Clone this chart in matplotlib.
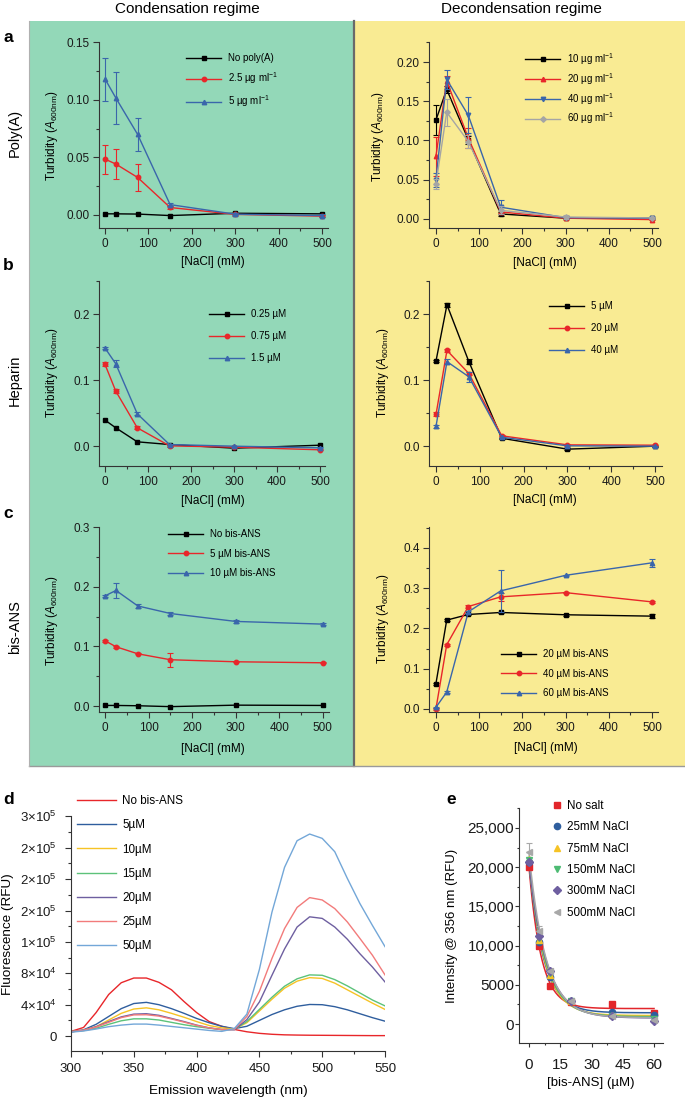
import numpy as np
import matplotlib
matplotlib.use('Agg')
import matplotlib.pyplot as plt
from matplotlib.ticker import MultipleLocator, FuncFormatter, FormatStrFormatter
from matplotlib.patches import Rectangle
from matplotlib.lines import Line2D

plt.rcParams['font.family'] = ['Liberation Sans', 'DejaVu Sans']
plt.rcParams['mathtext.fontset'] = 'custom'
plt.rcParams['mathtext.rm'] = 'Liberation Sans'
plt.rcParams['mathtext.it'] = 'Liberation Sans:italic'
plt.rcParams['mathtext.bf'] = 'Liberation Sans:bold'

# ---- data -------------------------------------------------------------
nacl = [0, 25, 75, 150, 300, 500]

# a, condensation (poly(A))
polyA_none = [0.001, 0.001, 0.0008, -0.0005, 0.0015, 0.001]
polyA_2p5 = [0.0485, 0.0442, 0.0326, 0.0065, 0.0005, -0.001]
polyA_2p5_err = [0.0125, 0.013, 0.012, 0.001, 0.001, 0.001]
polyA_5 = [0.118, 0.1015, 0.070, 0.009, 0.0007, -0.0005]
polyA_5_err = [0.0187, 0.0228, 0.0145, 0.001, 0.001, 0.001]
# a, decondensation
polyA_10 = [0.126, 0.165, 0.101, 0.0064, 0.001, 0.0008]
polyA_10_err = [0.0186, 0.005, 0.005, 0.002, 0.001, 0.001]
polyA_20 = [0.0797, 0.176, 0.103, 0.009, 0.001, -0.0008]
polyA_20_err = [0.025, 0.006, 0.013, 0.002, 0.001, 0.001]
polyA_40 = [0.050, 0.178, 0.132, 0.015, 0.0017, 0.001]
polyA_40_err = [0.009, 0.012, 0.023, 0.009, 0.002, 0.001]
polyA_60 = [0.0445, 0.136, 0.0987, 0.011, 0.0025, 0.0013]
polyA_60_err = [0.0065, 0.017, 0.008, 0.005, 0.002, 0.001]

# b, heparin
hep_025 = [0.0394, 0.0278, 0.0066, 0.0025, -0.003, 0.0015]
hep_075 = [0.1237, 0.0833, 0.0278, 0.0005, -0.0015, -0.0055]
hep_075_err = [0.003, 0.003, 0.002, 0.001, 0.001, 0.001]
hep_15 = [0.1485, 0.1247, 0.049, 0.0025, 0.0, -0.0025]
hep_15_err = [0.002, 0.005, 0.002, 0.001, 0.001, 0.001]
hep_5 = [0.129, 0.214, 0.128, 0.012, -0.0045, 0.0]
hep_5_err = [0.002, 0.003, 0.004, 0.001, 0.001, 0.001]
hep_20 = [0.048, 0.145, 0.110, 0.0157, 0.002, 0.0015]
hep_20_err = [0.003, 0.002, 0.003, 0.001, 0.001, 0.001]
hep_40 = [0.030, 0.128, 0.105, 0.0136, 0.0005, 0.0]
hep_40_err = [0.002, 0.004, 0.008, 0.001, 0.001, 0.001]

# c, bis-ANS
bis_0 = [0.001, 0.001, 0.0005, -0.001, 0.0015, 0.001]
bis_5 = [0.1095, 0.0995, 0.0877, 0.0777, 0.0743, 0.0726]
bis_5_err = [0.002, 0.002, 0.001, 0.0115, 0.001, 0.001]
bis_10 = [0.185, 0.194, 0.168, 0.1553, 0.142, 0.1375]
bis_10_err = [0.002, 0.013, 0.003, 0.002, 0.002, 0.002]
bis_20 = [0.0628, 0.2207, 0.2347, 0.2397, 0.234, 0.2306]
bis_20_err = [0.002, 0.002, 0.002, 0.002, 0.002, 0.005]
bis_40 = [0.0, 0.1595, 0.2545, 0.2785, 0.289, 0.266]
bis_40_err = [0.002, 0.002, 0.003, 0.01, 0.002, 0.002]
bis_60 = [0.004, 0.042, 0.2413, 0.2934, 0.332, 0.363]
bis_60_err = [0.002, 0.002, 0.003, 0.053, 0.002, 0.01]

# d, emission spectra
wavelength = list(range(300, 551, 10))
spec_none = [6000, 11000, 30000, 53000, 68000, 74000, 74000, 68500, 59000, 44000, 30000, 18500, 12500,
             8500, 5500, 3500, 2300, 1600, 1300, 1100, 1000, 900, 800, 700, 600, 600]
spec_5 = [5500, 8000, 15000, 25000, 35000, 41500, 43000, 40000, 35000, 29000, 22500, 17000, 12500,
          9500, 12500, 20000, 27500, 33500, 38000, 40300, 40000, 37500, 33500, 28500, 23500, 19000]
spec_10 = [5500, 7500, 12000, 20500, 29000, 34500, 36000, 33500, 29000, 24000, 18500, 13500, 10500,
           9000, 17000, 32000, 47000, 61000, 70000, 74500, 73500, 67500, 59000, 50500, 42000, 34000]
spec_15 = [5500, 7000, 10000, 15000, 19500, 22000, 22000, 20500, 17500, 14500, 12000, 10000, 8200,
           8500, 18500, 34000, 49500, 63500, 73000, 78000, 77500, 72000, 64000, 55000, 46000, 38500]
spec_20 = [5500, 7500, 12000, 18500, 24500, 28000, 28500, 26500, 22500, 18500, 14000, 10500, 8300,
           8000, 21000, 43500, 77500, 111000, 139000, 152000, 150000, 139000, 123500, 105000, 88000, 69000]
spec_25 = [5500, 7500, 11500, 17500, 23500, 27000, 27200, 25500, 21800, 17800, 13600, 10400, 8300,
           8500, 25000, 57000, 99000, 137000, 164000, 176500, 173500, 162500, 145500, 124500, 103000, 78000]
spec_50 = [5000, 6500, 9000, 12000, 14000, 15300, 15300, 14000, 12300, 10600, 8900, 7200, 6000,
           9500, 28000, 85000, 158000, 215000, 249000, 257500, 252000, 235000, 201000, 169000, 141000, 114000]
spec_labels = ['No bis-ANS', '5µM', '10µM', '15µM', '20µM', '25µM', '50µM']

# e, intensity at 356 nm
bisans = [0, 5, 10, 20, 40, 60]
e_nosalt = [20000, 9930, 4800, 2850, 2500, 1400]
e_25 = [20600, 10500, 6000, 2950, 1500, 1100]
e_75 = [21000, 10700, 6200, 2900, 1150, 700]
e_150 = [20900, 11000, 6500, 2900, 1050, 600]
e_300 = [20650, 11250, 6800, 3000, 1000, 420]
e_500 = [21900, 11800, 6800, 3000, 1000, 500]
e_500_err = [1250, 650, 300, 200, 100, 100]
e_labels = ['No salt', '25mM NaCl', '75mM NaCl', '150mM NaCl', '300mM NaCl', '500mM NaCl']

# ---- figure -----------------------------------------------------------
W, H = 685, 1098
fig = plt.figure(figsize=(W / 100, H / 100), dpi=100)


def fx(x):
    return x / W


def fy(y):
    return 1 - y / H


def px_axes(x0, y0, x1, y1):
    return fig.add_axes([fx(x0), fy(y1), (x1 - x0) / W, (y1 - y0) / H])


GREEN = '#93d8b8'
YELLOW = '#f9eb93'
fig.add_artist(Rectangle((fx(29), fy(766)), (354 - 29) / W, (766 - 21) / H,
                         transform=fig.transFigure, facecolor=GREEN, edgecolor='none', zorder=0))
fig.add_artist(Rectangle((fx(354), fy(766)), (685 - 354) / W, (766 - 21) / H,
                         transform=fig.transFigure, facecolor=YELLOW, edgecolor='none', zorder=0))
fig.add_artist(Line2D([fx(354), fx(354)], [fy(21), fy(766)], transform=fig.transFigure,
                      color='#6a6a6a', lw=1.6))
fig.add_artist(Line2D([fx(29), fx(685)], [fy(766), fy(766)], transform=fig.transFigure,
                      color='#9a9a9a', lw=1.0))
fig.add_artist(Line2D([fx(29), fx(29)], [fy(21), fy(766)], transform=fig.transFigure,
                      color='#b0b0b0', lw=0.8))

fig.text(fx(187), fy(9), 'Condensation regime', fontsize=11, ha='center', va='center')
fig.text(fx(521), fy(9), 'Decondensation regime', fontsize=11, ha='center', va='center')
for letter, xx, yy in [('a', 3, 37), ('b', 3, 265), ('c', 3, 514), ('d', 3, 799), ('e', 446, 800)]:
    fig.text(fx(xx), fy(yy), letter, fontsize=12.5, fontweight='bold', ha='left', va='center')
for name, yy in [('Poly(A)', 133), ('Heparin', 380), ('bis-ANS', 627)]:
    fig.text(fx(15), fy(yy), name, fontsize=10.5, rotation=90, ha='center', va='center')

EDGE = '#333333'
RED = '#e8262a'
BLUE = '#3a66ab'
GRAY = '#a5a5a5'
TURB = r'Turbidity ($\mathit{A}_{\mathrm{600nm}}$)'


def style(ax, xlim, ylim, ymaj, ymin, xmaj, xmin, fs, tlen=4, ypad=2.5, xpad=3.5):
    ax.set_facecolor('none')
    ax.spines['top'].set_visible(False)
    ax.spines['right'].set_visible(False)
    for s in ['left', 'bottom']:
        ax.spines[s].set_color(EDGE)
        ax.spines[s].set_linewidth(0.8)
    ax.set_xlim(*xlim)
    ax.set_ylim(*ylim)
    ax.xaxis.set_major_locator(MultipleLocator(xmaj))
    ax.xaxis.set_minor_locator(MultipleLocator(xmin))
    ax.yaxis.set_major_locator(MultipleLocator(ymaj))
    ax.yaxis.set_minor_locator(MultipleLocator(ymin))
    ax.tick_params(which='both', direction='out', color=EDGE, width=0.8, labelsize=fs,
                   labelcolor='#1a1a1a')
    ax.tick_params(which='major', length=tlen)
    ax.tick_params(which='minor', length=tlen / 2)
    ax.tick_params(axis='y', pad=ypad)
    ax.tick_params(axis='x', pad=xpad)


def labels(ax, xl, xpos, yl, ypos, fs):
    ax.set_xlabel(xl, fontsize=fs)
    ax.set_ylabel(yl, fontsize=fs)
    ax.xaxis.label.set_va('center')
    ax.yaxis.label.set_va('center')
    ax.xaxis.set_label_coords(fx(xpos[0]), fy(xpos[1]), transform=fig.transFigure)
    ax.yaxis.set_label_coords(fx(ypos[0]), fy(ypos[1]), transform=fig.transFigure)


def series(ax, x, y, err, color, marker, label, ms=3.2):
    if err is not None:
        ax.errorbar(x, y, yerr=err, fmt='none', ecolor=color, elinewidth=0.8, capsize=2, capthick=0.8)
    ax.plot(x, y, color=color, marker=marker, ms=ms, lw=1.0, label=label)


def legend(ax, x, y, fs=7, hl=3.6, ls=1.15, htp=0.7, handles=None):
    kw = dict(loc='upper left', bbox_to_anchor=(fx(x), fy(y)), bbox_transform=fig.transFigure,
              frameon=False, fontsize=fs, handlelength=hl, labelspacing=ls, handletextpad=htp,
              borderpad=0, borderaxespad=0)
    if handles is not None:
        ax.legend(handles=handles, **kw)
    else:
        ax.legend(**kw)


UG = r'µg ml$^{-1}$'

# a left
ax = px_axes(99, 42, 328, 228)
style(ax, (-14, 514), (-0.0113, 0.1502), 0.05, 0.025, 100, 50, 8.5)
ax.yaxis.set_major_formatter(FormatStrFormatter('%.2f'))
series(ax, nacl, polyA_none, None, 'black', 's', 'No poly(A)')
series(ax, nacl, polyA_2p5, polyA_2p5_err, RED, 'o', '2.5 ' + UG)
series(ax, nacl, polyA_5, polyA_5_err, BLUE, '^', '5 ' + UG)
labels(ax, '[NaCl] (mM)', (213, 262), TURB, (52, 136), 8.5)
legend(ax, 186, 53, ls=0.75)

# a right
ax = px_axes(429, 42, 658, 228)
style(ax, (-16, 514), (-0.0115, 0.2255), 0.05, 0.025, 100, 50, 8.5)
ax.yaxis.set_major_formatter(FormatStrFormatter('%.2f'))
series(ax, nacl, polyA_10, polyA_10_err, 'black', 's', '10 ' + UG)
series(ax, nacl, polyA_20, polyA_20_err, RED, '^', '20 ' + UG)
series(ax, nacl, polyA_40, polyA_40_err, BLUE, 'v', '40 ' + UG)
series(ax, nacl, polyA_60, polyA_60_err, GRAY, 'D', '60 ' + UG, ms=2.8)
labels(ax, '[NaCl] (mM)', (545, 263), TURB, (378, 137), 8.5)
legend(ax, 525, 51, ls=0.42)

# b left
ax = px_axes(99, 281, 325, 466)
style(ax, (-14, 511.6), (-0.03, 0.25), 0.1, 0.05, 100, 50, 8.5)
ax.yaxis.set_major_formatter(FormatStrFormatter('%.1f'))
series(ax, nacl, hep_025, None, 'black', 's', '0.25 µM')
series(ax, nacl, hep_075, hep_075_err, RED, 'o', '0.75 µM')
series(ax, nacl, hep_15, hep_15_err, BLUE, '^', '1.5 µM')
labels(ax, '[NaCl] (mM)', (213, 501), TURB, (52, 373), 8.5)
legend(ax, 209, 309, ls=1.25)

# b right
ax = px_axes(429, 281, 662, 466)
style(ax, (-16, 516), (-0.03, 0.25), 0.1, 0.05, 100, 50, 8.5)
ax.yaxis.set_major_formatter(FormatStrFormatter('%.1f'))
series(ax, nacl, hep_5, hep_5_err, 'black', 's', '5 µM')
series(ax, nacl, hep_20, hep_20_err, RED, 'o', '20 µM')
series(ax, nacl, hep_40, hep_40_err, BLUE, '^', '40 µM')
labels(ax, '[NaCl] (mM)', (545, 500), TURB, (383, 373), 8.5)
legend(ax, 549, 301, ls=1.25)

# c left
ax = px_axes(99, 527, 329, 712)
style(ax, (-14, 514), (-0.01, 0.3005), 0.1, 0.05, 100, 50, 8.5)
ax.yaxis.set_major_formatter(FormatStrFormatter('%.1f'))
series(ax, nacl, bis_0, None, 'black', 's', 'No bis-ANS')
series(ax, nacl, bis_5, bis_5_err, RED, 'o', '5 µM bis-ANS')
series(ax, nacl, bis_10, bis_10_err, BLUE, '^', '10 µM bis-ANS')
labels(ax, '[NaCl] (mM)', (213, 749), TURB, (52, 621), 8.5)
legend(ax, 168, 529, ls=1.0)

# c right
ax = px_axes(429, 527, 658, 712)
style(ax, (-16, 514), (-0.0075, 0.452), 0.1, 0.05, 100, 50, 8.5)
ax.yaxis.set_major_formatter(FormatStrFormatter('%.1f'))
series(ax, nacl, bis_20, bis_20_err, 'black', 's', '20 µM bis-ANS')
series(ax, nacl, bis_40, bis_40_err, RED, 'o', '40 µM bis-ANS')
series(ax, nacl, bis_60, bis_60_err, BLUE, '^', '60 µM bis-ANS')
labels(ax, '[NaCl] (mM)', (546, 748), TURB, (383, 619), 8.5)
legend(ax, 501, 649, ls=1.0)

# d spectra
ax = px_axes(71, 816, 385, 1051)
style(ax, (300, 550), (-19000, 280500), 40000, 20000, 50, 25, 9.5, tlen=4, ypad=6.5, xpad=4.5)


def sci_fmt(v, pos):
    if v <= 0:
        return '0'
    e = int(np.floor(np.log10(v)))
    m = int(round(v / 10 ** e))
    return '%d×10$^{%d}$' % (m, e)


ax.yaxis.set_major_formatter(FuncFormatter(sci_fmt))
spec_colors = ['#e8262a', '#2f5e9e', '#f6c325', '#5cc27a', '#6e5fa0', '#f27b7b', '#73a7d8']
for vals, col, lab in zip([spec_none, spec_5, spec_10, spec_15, spec_20, spec_25, spec_50],
                          spec_colors, spec_labels):
    ax.plot(wavelength, vals, color=col, lw=1.0, label=lab)
labels(ax, 'Emission wavelength (nm)', (228, 1091), 'Fluorescence (RFU)', (8, 934), 9.7)
legend(ax, 77, 795, fs=8.4, hl=3.3, ls=1.05, htp=0.6)

# e intensity vs bis-ANS
ax = px_axes(519, 808, 663, 1043)
style(ax, (-4.8, 64.3), (-2420, 27550), 5000, 2500, 15, 7.5, 11, tlen=3, ypad=0.5, xpad=8)
ax.yaxis.set_major_formatter(FuncFormatter(lambda v, p: f'{v:,.0f}' if v >= 10000 else f'{v:.0f}'))


def decay_fit(x, y):
    x = np.asarray(x, float)
    y = np.asarray(y, float)
    best = None
    for k in np.linspace(0.02, 1.0, 981):
        A = np.column_stack([np.ones_like(x), np.exp(-k * x)])
        coef = np.linalg.lstsq(A, y, rcond=None)[0]
        sse = np.sum((A @ coef - y) ** 2)
        if best is None or sse < best[0]:
            best = (sse, k, coef)
    _, k, coef = best
    xs = np.linspace(0, 60, 300)
    return xs, coef[0] + coef[1] * np.exp(-k * xs)


e_colors = ['#e2262b', '#2f5e9e', '#f6c325', '#4dbb73', '#6e5fa0', '#a8a8a8']
e_markers = ['s', 'o', '^', 'v', 'D', '<']
e_sizes = [4.2, 4.5, 5, 5, 4, 5]
e_series = [e_nosalt, e_25, e_75, e_150, e_300, e_500]
for vals, col in zip(e_series, e_colors):
    xs, ys = decay_fit(bisans, vals)
    ax.plot(xs, ys, color=col, lw=1.1)
ax.errorbar(bisans, e_500, yerr=e_500_err, fmt='none', ecolor=e_colors[5], elinewidth=0.8,
            capsize=2, capthick=0.8)
handles = []
for vals, col, mk, sz, lab in zip(e_series, e_colors, e_markers, e_sizes, e_labels):
    ax.plot(bisans, vals, ls='none', marker=mk, ms=sz, color=col)
    handles.append(Line2D([], [], ls='none', marker=mk, ms=sz, color=col, label=lab))
labels(ax, '[bis-ANS] (µM)', (591, 1083), 'Intensity @ 356 nm (RFU)', (452, 926), 9.5)
legend(ax, 551, 800, fs=8.4, hl=1.0, ls=0.8, htp=0.4, handles=handles)

fig.savefig('out.png', dpi=100)
